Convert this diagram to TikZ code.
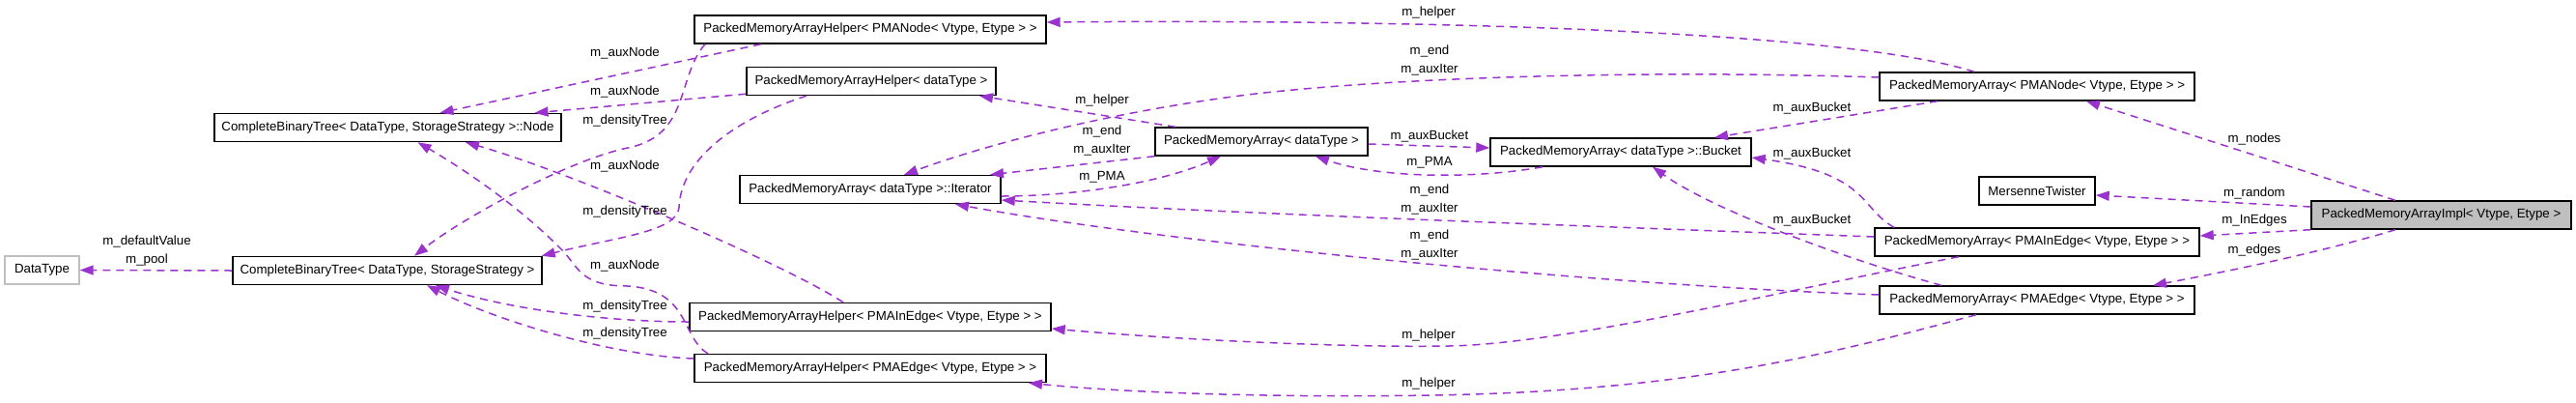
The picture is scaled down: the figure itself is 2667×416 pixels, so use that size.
\documentclass[tikz,border=0pt]{standalone}
\usepackage{fontspec}
\setmainfont{Liberation Sans}
\usetikzlibrary{arrows.meta}
\definecolor{membercol}{RGB}{154,50,205}
\tikzset{
    classbox/.style={draw, line width=1.4pt, fill=white, minimum height=29pt, inner sep=0pt,
        font=\fontsize{13.3}{16}\selectfont},
    extbox/.style={classbox, draw=black!25},
    mainbox/.style={classbox, fill=black!25},
    memberarrow/.style={draw=membercol, line width=1.5pt, dash pattern=on 8pt off 6pt,
        -{Triangle[length=14pt,width=10pt]}},
    memberlabel/.style={font=\fontsize{13.3}{19}\selectfont, align=center, inner sep=0pt}
}

\begin{document}
\begin{tikzpicture}[x=1pt,y=1pt]
\useasboundingbox (0,0) rectangle (2667,-416);
% classes
\node[extbox, minimum width=77pt] (datatype) at (43.5,-279.5) {DataType};
\node[classbox, minimum width=320pt] (cbt) at (401,-280) {CompleteBinaryTree< DataType, StorageStrategy >};
\node[classbox, minimum width=359pt] (cbtnode) at (401.5,-132) {CompleteBinaryTree< DataType, StorageStrategy >::Node};
\node[classbox, minimum width=364pt] (helpnode) at (901,-30.5) {PackedMemoryArrayHelper< PMANode< Vtype, Etype > >};
\node[classbox, minimum width=258pt] (helpdata) at (902,-84) {PackedMemoryArrayHelper< dataType >};
\node[classbox, minimum width=270pt] (iter) at (901,-196) {PackedMemoryArray< dataType >::Iterator};
\node[classbox, minimum width=374pt] (helpinedge) at (901,-328) {PackedMemoryArrayHelper< PMAInEdge< Vtype, Etype > >};
\node[classbox, minimum width=364pt] (helpedge) at (901,-381) {PackedMemoryArrayHelper< PMAEdge< Vtype, Etype > >};
\node[classbox, minimum width=220pt] (pmadata) at (1306,-146.5) {PackedMemoryArray< dataType >};
\node[classbox, minimum width=270pt] (bucket) at (1678,-157.5) {PackedMemoryArray< dataType >::Bucket};
\node[classbox, minimum width=326pt] (pmanode) at (2109,-89.5) {PackedMemoryArray< PMANode< Vtype, Etype > >};
\node[classbox, minimum width=120pt] (twister) at (2109,-197.5) {MersenneTwister};
\node[classbox, minimum width=336pt] (pmainedge) at (2109,-250.5) {PackedMemoryArray< PMAInEdge< Vtype, Etype > >};
\node[classbox, minimum width=326pt] (pmaedge) at (2109,-310.5) {PackedMemoryArray< PMAEdge< Vtype, Etype > >};
\node[mainbox, minimum width=269pt] (impl) at (2527.5,-222.5) {PackedMemoryArrayImpl< Vtype, Etype >};
% members
\draw[memberarrow] (cbt.west) -- (datatype.east);
\draw[memberarrow] ([xshift=-113pt]helpnode.south) -- ([xshift=54pt]cbtnode.north);
\draw[memberarrow] ([xshift=-171pt]helpnode.south) .. controls (700,-80) and (715,-140) .. (650,-153)
    .. controls (590,-165) and (480,-225) .. ([xshift=28pt]cbt.north);
\draw[memberarrow] ([yshift=2pt]helpdata.south west) -- ([xshift=152pt]cbtnode.north);
\draw[memberarrow] ([xshift=-67pt]helpdata.south) .. controls (770,-120) and (705,-160) .. (703,-215)
    .. controls (700,-240) and (640,-245) .. ([xshift=-1pt]cbt.north east);
\draw[memberarrow] ([xshift=-28pt]helpinedge.north) .. controls (810,-272) and (590,-178) .. ([xshift=80.5pt]cbtnode.south);
\draw[memberarrow] ([yshift=-5pt]helpinedge.west) .. controls (620,-333) and (520,-318) .. ([xshift=50pt]cbt.south);
\draw[memberarrow] ([xshift=-168pt]helpedge.north) .. controls (705,-350) and (715,-300) .. (650,-296)
    .. controls (605,-296) and (600,-280) .. (585,-262)
    .. controls (540,-215) and (480,-175) .. ([xshift=31pt]cbtnode.south);
\draw[memberarrow] ([yshift=10pt]helpedge.west) .. controls (630,-368) and (510,-330) .. ([xshift=41pt]cbt.south);
\draw[memberarrow] ([xshift=-89pt]pmadata.north) -- ([xshift=112pt]helpdata.south);
\draw[memberarrow] (pmadata.south west) -- ([xshift=124pt]iter.north);
\draw[memberarrow] ([yshift=-7pt]iter.east) .. controls (1110,-203) and (1200,-190) .. ([xshift=-42pt]pmadata.south);
\draw[memberarrow] ([yshift=9.5pt]pmanode.west) .. controls (1700,-72) and (1450,-80) .. (1300,-97)
    .. controls (1150,-115) and (1020,-150) .. ([xshift=35pt]iter.north);
\draw[memberarrow] ([yshift=5.5pt]pmainedge.west) .. controls (1700,-236) and (1300,-222) .. ([yshift=-11pt]iter.east);
\draw[memberarrow] ([yshift=5.5pt]pmaedge.west) .. controls (1650,-295) and (1200,-250) .. ([xshift=88pt]iter.south);
\draw[memberarrow] ([yshift=-2.5pt]pmadata.east) -- ([yshift=4.5pt]bucket.west);
\draw[memberarrow] ([xshift=-81pt]bucket.south) .. controls (1530,-185) and (1430,-185) .. ([xshift=56pt]pmadata.south);
\draw[memberarrow] ([xshift=-103pt]pmanode.south) -- ([xshift=97pt]bucket.north);
\draw[memberarrow] ([xshift=-148pt]pmainedge.north) .. controls (1925,-215) and (1935,-180) .. ([yshift=-5.5pt]bucket.east);
\draw[memberarrow] ([xshift=-99pt]pmaedge.north) .. controls (1900,-265) and (1770,-215) .. ([xshift=33pt]bucket.south);
\draw[memberarrow] ([xshift=-65pt]pmanode.north) .. controls (1900,-28) and (1400,-20) .. ([yshift=7.5pt]helpnode.east);
\draw[memberarrow] ([xshift=-81pt]pmainedge.south) .. controls (1850,-300) and (1620,-356) .. (1500,-358)
    .. controls (1380,-360) and (1200,-350) .. ([yshift=-12pt]helpinedge.east);
\draw[memberarrow] ([xshift=-63pt]pmaedge.south) .. controls (1900,-365) and (1750,-405) .. (1480,-409)
    .. controls (1300,-412) and (1150,-405) .. ([xshift=164pt]helpedge.south);
\draw[memberarrow] ([xshift=-47.5pt]impl.north) -- ([xshift=51pt]pmanode.south);
\draw[memberarrow] ([yshift=8.5pt]impl.west) -- ([yshift=-4.5pt]twister.east);
\draw[memberarrow] (impl.south west) -- ([yshift=6.5pt]pmainedge.east);
\draw[memberarrow] ([xshift=-47.5pt]impl.south) .. controls (2400,-262) and (2300,-282) .. ([xshift=120pt]pmaedge.north);
% member names
\node[memberlabel] (ldefault) at (152,-260) {m\_defaultValue\\m\_pool};
\node[memberlabel] (lauxa) at (647,-55) {m\_auxNode};
\node[memberlabel] (lauxb) at (647,-95) {m\_auxNode};
\node[memberlabel] (ldensa) at (647,-125) {m\_densityTree};
\node[memberlabel] (lauxc) at (647,-172) {m\_auxNode};
\node[memberlabel] (ldensb) at (647,-219) {m\_densityTree};
\node[memberlabel] (lauxd) at (647,-275) {m\_auxNode};
\node[memberlabel] (ldensc) at (647,-317) {m\_densityTree};
\node[memberlabel] (ldensd) at (647,-345) {m\_densityTree};
\node[memberlabel] (lhelpa) at (1141,-104) {m\_helper};
\node[memberlabel] (litera) at (1141,-145.5) {m\_end\\m\_auxIter};
\node[memberlabel] (lpmaa) at (1141,-183) {m\_PMA};
\node[memberlabel] (lhelpb) at (1479,-13) {m\_helper};
\node[memberlabel] (literb) at (1480,-62.5) {m\_end\\m\_auxIter};
\node[memberlabel] (lbucka) at (1480,-141) {m\_auxBucket};
\node[memberlabel] (lpmab) at (1480,-168) {m\_PMA};
\node[memberlabel] (literc) at (1480,-206.5) {m\_end\\m\_auxIter};
\node[memberlabel] (literd) at (1480,-253.5) {m\_end\\m\_auxIter};
\node[memberlabel] (lhelpc) at (1479,-347) {m\_helper};
\node[memberlabel] (lhelpd) at (1479,-397) {m\_helper};
\node[memberlabel] (lbuckb) at (1876,-112) {m\_auxBucket};
\node[memberlabel] (lbuckc) at (1876,-159) {m\_auxBucket};
\node[memberlabel] (lbuckd) at (1876,-228) {m\_auxBucket};
\node[memberlabel] (lnodes) at (2334,-144) {m\_nodes};
\node[memberlabel] (lrandom) at (2334,-200) {m\_random};
\node[memberlabel] (linedges) at (2334,-228) {m\_InEdges};
\node[memberlabel] (ledges) at (2334,-259) {m\_edges};
\end{tikzpicture}
\end{document}
